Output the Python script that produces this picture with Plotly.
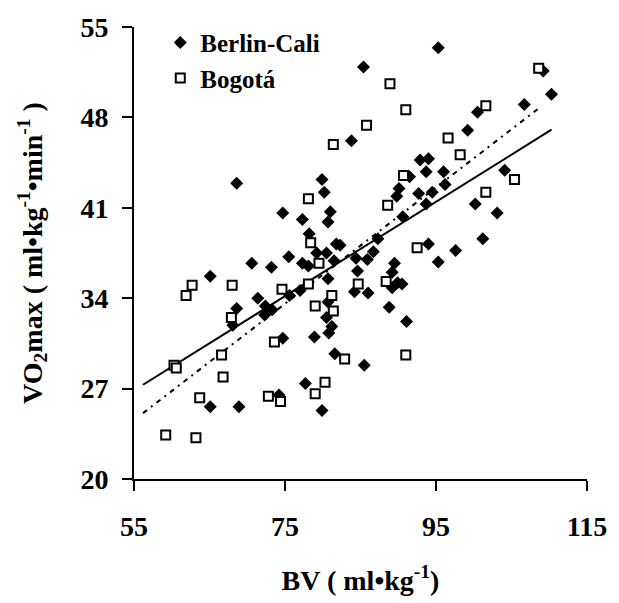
import plotly.graph_objects as go

# Berlin-Cali (filled diamonds)
berlin_bv = [85.4, 95.3, 109.2, 110.3, 106.7, 100.5, 83.8, 99.2, 68.6, 79.9, 80.2, 74.7, 77.3, 81.0,
             80.7, 78.2, 81.8, 82.3, 75.5, 79.2, 80.5, 92.9, 94.0, 93.7, 96.0, 91.5, 90.1, 96.2,
             89.8, 92.7, 94.5, 93.7, 104.1, 100.2, 103.1, 90.6, 87.3, 86.7, 94.0, 97.6, 101.2,
             95.3, 85.9, 89.5, 89.2, 89.9, 89.2, 90.5, 86.0, 88.8, 91.1, 85.5, 70.6, 73.2, 77.3,
             78.1, 81.5, 84.4, 84.6, 80.7, 84.2, 65.1, 71.4, 75.6, 77.0, 80.7, 72.4, 73.3, 72.3,
             68.6, 68.1, 80.5, 81.2, 80.8, 74.7, 78.9, 81.6, 77.7, 65.1, 68.9, 74.2, 79.9]
berlin_vo2 = [51.9, 53.4, 51.6, 49.8, 49.0, 48.4, 46.2, 47.0, 42.9, 43.2, 42.2, 40.6, 40.1, 40.7,
              39.9, 39.0, 38.2, 38.1, 37.2, 37.5, 37.5, 44.7, 44.8, 43.8, 43.8, 43.4, 42.5, 42.8,
              41.9, 42.1, 42.2, 41.3, 43.9, 41.3, 40.6, 40.3, 38.6, 37.6, 38.2, 37.7, 38.6,
              36.8, 37.0, 36.7, 36.0, 35.2, 34.8, 35.1, 34.4, 33.3, 32.2, 28.8, 36.7, 36.4, 36.7,
              36.5, 36.9, 37.1, 36.1, 35.5, 34.5, 35.7, 34.0, 34.2, 34.6, 33.7, 33.4, 33.1, 32.7,
              33.2, 31.9, 32.5, 31.8, 31.3, 30.9, 31.0, 29.7, 27.4, 25.6, 25.6, 26.5, 25.3]

# Bogotá (open squares)
bogota_bv = [108.6, 85.8, 81.4, 88.9, 91.0, 78.1, 78.4, 101.6, 96.6, 98.2, 90.7, 88.6, 105.4, 101.6,
             92.5, 88.4, 91.0, 79.5, 84.7, 62.7, 61.9, 68.0, 74.6, 78.1, 81.2, 79.0, 81.4, 67.9,
             73.6, 82.9, 66.6, 60.3, 60.6, 66.8, 80.3, 79.0, 63.7, 72.8, 74.4, 59.2, 63.2]
bogota_vo2 = [51.8, 47.4, 45.9, 50.6, 48.6, 41.7, 38.3, 48.9, 46.4, 45.1, 43.5, 41.2, 43.2, 42.2,
              37.9, 35.3, 29.6, 36.7, 35.1, 35.0, 34.2, 35.0, 34.7, 35.1, 34.2, 33.4, 33.0, 32.5,
              30.6, 29.3, 29.6, 28.8, 28.6, 27.9, 27.5, 26.6, 26.3, 26.4, 26.0, 23.4, 23.2]

# Regression lines (end points)
fit_solid_x = [56.2, 110.3]
fit_solid_y = [27.3, 47.05]
fit_dot_x = [56.2, 108.6]
fit_dot_y = [25.1, 48.7]

x_ticks = [55, 75, 95, 115]
y_ticks = [20, 27, 34, 41, 48, 55]

FONT = "Liberation Serif, Times New Roman, Tinos, DejaVu Serif, serif"

fig = go.Figure()
fig.add_trace(go.Scatter(x=fit_solid_x, y=fit_solid_y, mode="lines", showlegend=False,
                         line=dict(color="black", width=2)))
fig.add_trace(go.Scatter(x=fit_dot_x, y=fit_dot_y, mode="lines", showlegend=False,
                         line=dict(color="black", width=2, dash="5px,5px,2px,5px")))
fig.add_trace(go.Scatter(x=berlin_bv, y=berlin_vo2, mode="markers", name="Berlin-Cali",
                         marker=dict(symbol="diamond", size=10, color="black",
                                     line=dict(width=0))))
fig.add_trace(go.Scatter(x=bogota_bv, y=bogota_vo2, mode="markers", name="Bogotá",
                         marker=dict(symbol="square", size=9, color="white",
                                     line=dict(width=2, color="black"))))

axis_common = dict(showline=True, linewidth=2, linecolor="black", ticks="outside",
                   ticklen=10, tickwidth=2, tickcolor="black", showgrid=False, zeroline=False,
                   tickfont=dict(family=FONT, size=28, color="black", weight="bold"),
                   title_font=dict(family=FONT, size=28, color="black", weight="bold"))

fig.update_xaxes(range=[55, 115], tickvals=x_ticks, ticklabelstandoff=11,
                 title=dict(text="BV ( ml•kg<sup>-1</sup>)", standoff=30), **axis_common)
fig.update_yaxes(range=[20, 55], tickvals=y_ticks, ticklabelstandoff=8,
                 title=dict(text="VO<sub>2</sub>max ( ml•kg<sup>-1</sup>•min<sup>-1</sup> )",
                            standoff=30), **axis_common)

fig.update_layout(
    width=619, height=603,
    margin=dict(l=134, r=23, t=23, b=122),
    plot_bgcolor="white", paper_bgcolor="white",
    legend=dict(x=0.058, y=1.016, xanchor="left", yanchor="top",
                font=dict(family=FONT, size=25, color="black", weight="bold"),
                bgcolor="rgba(0,0,0,0)", tracegroupgap=0, itemwidth=30),
)

fig.write_html("out.html")
